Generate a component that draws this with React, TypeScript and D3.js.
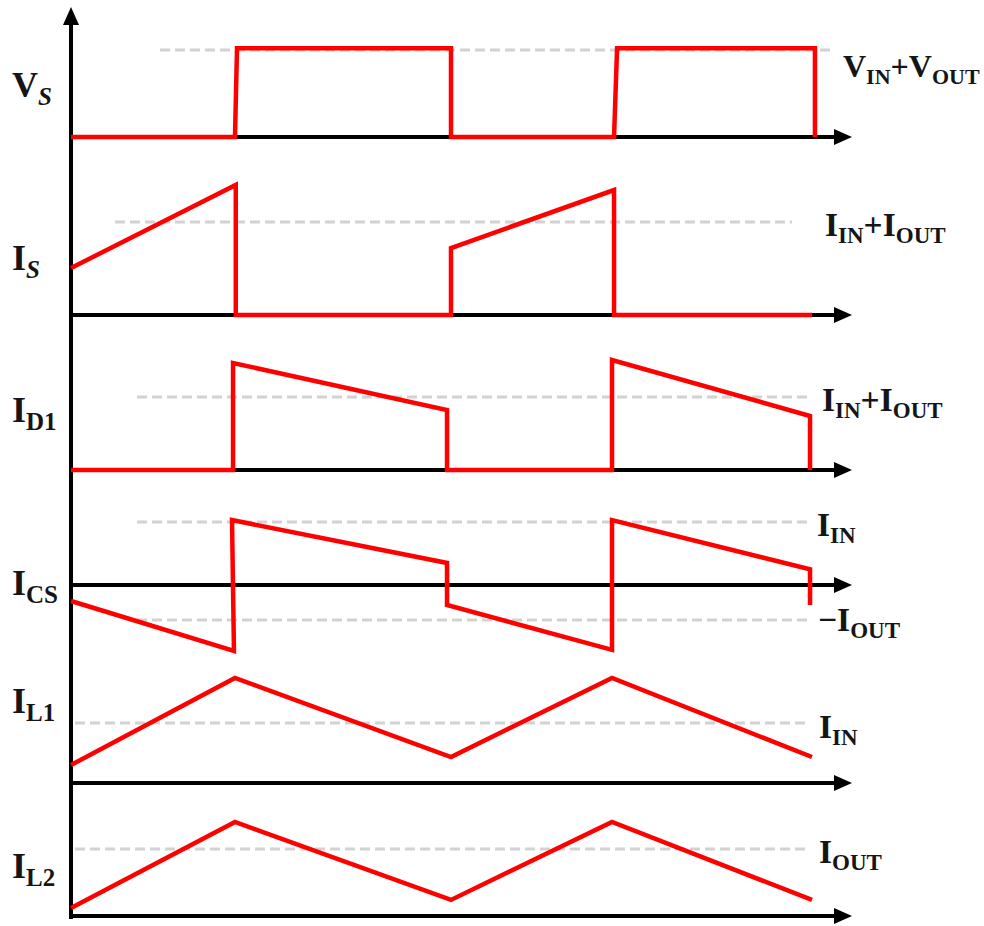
import React from 'react';
import * as d3 from 'd3';

// ---- DATA (time in % of the drawn time axis, values relative to each panel's dashed reference level) ----
const vsTimes = [0, 21.05, 21.31, 48.78, 48.78, 69.71, 70.1, 95.5, 95.5];
const vsValues = [0, 0, 1.02, 1.02, 0, 0, 1.02, 1.02, 0];

const isTimes = [0, 21.15, 21.15, 48.78, 48.78, 69.71, 69.71, 95.12];
const isValues = [0.505, 1.398, 0, 0, 0.72, 1.344, 0, 0];

const id1Times = [0, 20.8, 20.8, 48.27, 48.27, 69.45, 69.45, 94.87, 94.87];
const id1Values = [0, 0, 1.466, 0.822, 0, 0, 1.507, 0.74, 0];

const icsTimes = [0, 20.92, 20.67, 48.27, 48.27, 69.45, 69.45, 94.87, 94.87];
const icsValues = [-0.254, -1.048, 1.03, 0.35, -0.317, -1.03, 1.03, 0.25, -0.317];

const il1Times = [0, 21.05, 48.78, 69.45, 95.12];
const il1Values = [0.3, 1.75, 0.433, 1.75, 0.433];

const il2Times = [0, 21.05, 48.78, 69.45, 95.12];
const il2Values = [0.12, 1.403, 0.24, 1.403, 0.24];

// label texts: [text, isSubscript, italic]
type Part = [string, boolean, boolean?];
const leftLabels: Part[][] = [
  [['V', false], ['S', true, true]],
  [['I', false], ['S', true, true]],
  [['I', false], ['D1', true]],
  [['I', false], ['CS', true]],
  [['I', false], ['L1', true]],
  [['I', false], ['L2', true]],
];
const refLabelVs: Part[] = [['V', false], ['IN', true], ['+', false], ['V', false], ['OUT', true]];
const refLabelSum: Part[] = [['I', false], ['IN', true], ['+', false], ['I', false], ['OUT', true]];
const refLabelIn: Part[] = [['I', false], ['IN', true]];
const refLabelMinusOut: Part[] = [['\u2212', false], ['I', false], ['OUT', true]];
const refLabelOut: Part[] = [['I', false], ['OUT', true]];

// ---- LAYOUT ----
const W = 984;
const H = 926;
const X0 = 71;
const XEND = 850;
const RED = '#ff0000';
const GRAY = '#d2d2d2';
const INK = '#151515';
const FONT = '"Liberation Serif", "Times New Roman", serif';

const x = d3.scaleLinear().domain([0, 100]).range([X0, XEND]);

type Panel = {
  baseline: number;
  ref: number;
  times: number[];
  values: number[];
  dashes: { level: number; x1: number; x2: number }[];
  leftY: number;
  refs: { parts: Part[]; x: number; y: number; size: number }[];
};

const panels: Panel[] = [
  {
    baseline: 137, ref: 50, times: vsTimes, values: vsValues,
    dashes: [{ level: 1, x1: 160, x2: 835 }], leftY: 97,
    refs: [{ parts: refLabelVs, x: 843, y: 77, size: 32 }],
  },
  {
    baseline: 315, ref: 222, times: isTimes, values: isValues,
    dashes: [{ level: 1, x1: 115, x2: 792 }], leftY: 270,
    refs: [{ parts: refLabelSum, x: 825, y: 236, size: 33.5 }],
  },
  {
    baseline: 470, ref: 397, times: id1Times, values: id1Values,
    dashes: [{ level: 1, x1: 137, x2: 812 }], leftY: 422,
    refs: [{ parts: refLabelSum, x: 822, y: 411, size: 33.5 }],
  },
  {
    baseline: 585, ref: 522, times: icsTimes, values: icsValues,
    dashes: [{ level: 1, x1: 137, x2: 812 }, { level: -0.556, x1: 137, x2: 812 }], leftY: 595,
    refs: [
      { parts: refLabelIn, x: 817, y: 536, size: 33.5 },
      { parts: refLabelMinusOut, x: 818, y: 631, size: 33.5 },
    ],
  },
  {
    baseline: 783, ref: 723, times: il1Times, values: il1Values,
    dashes: [{ level: 1, x1: 75, x2: 810 }], leftY: 713,
    refs: [{ parts: refLabelIn, x: 819, y: 738, size: 33.5 }],
  },
  {
    baseline: 916, ref: 849, times: il2Times, values: il2Values,
    dashes: [{ level: 1, x1: 75, x2: 810 }], leftY: 878,
    refs: [{ parts: refLabelOut, x: 819, y: 863, size: 33.5 }],
  },
];

function Label({ parts, x0, y0, size }: { parts: Part[]; x0: number; y0: number; size: number }) {
  const sub = Math.round(size * 0.7);
  let shifted = false;
  return (
    <text x={x0} y={y0} fontFamily={FONT} fontWeight="bold" fontSize={size} fill={INK}>
      {parts.map(([t, isSub, ital], i) => {
        let dy = 0;
        if (isSub && !shifted) { dy = size * 0.22; shifted = true; }
        else if (!isSub && shifted) { dy = -size * 0.22; shifted = false; }
        return (
          <tspan key={i} dy={dy} fontSize={isSub ? sub : size} fontStyle={ital ? 'italic' : 'normal'}>
            {t}
          </tspan>
        );
      })}
    </text>
  );
}

export default function App() {
  return (
    <svg width={W} height={H} style={{ position: 'absolute', left: 0, top: 0, display: 'block', background: '#fff' }}>
      {/* dashed reference levels */}
      {panels.map((p, i) => {
        const y = d3.scaleLinear().domain([0, 1]).range([p.baseline, p.ref]);
        return p.dashes.map((d, j) => (
          <line key={`d${i}-${j}`} x1={d.x1} x2={d.x2} y1={y(d.level)} y2={y(d.level)}
            stroke={GRAY} strokeWidth={3} strokeDasharray="10 5" />
        ));
      })}

      {/* horizontal axes */}
      {panels.map((p, i) => (
        <g key={`ax${i}`}>
          <line x1={X0 - 2} x2={XEND - 14} y1={p.baseline} y2={p.baseline} stroke="#000" strokeWidth={4} />
          <path d={`M${XEND + 2},${p.baseline} L${XEND - 16},${p.baseline - 8} L${XEND - 16},${p.baseline + 8} Z`} fill="#000" />
        </g>
      ))}

      {/* vertical axis */}
      <line x1={X0} x2={X0} y1={20} y2={919} stroke="#000" strokeWidth={4} />
      <path d={`M${X0},7 L${X0 - 8},25 L${X0 + 8},25 Z`} fill="#000" />

      {/* waveforms */}
      {panels.map((p, i) => {
        const y = d3.scaleLinear().domain([0, 1]).range([p.baseline, p.ref]);
        const pts = p.times.map((t, k) => [t, p.values[k]] as [number, number]);
        const line = d3.line<[number, number]>().x((d) => x(d[0])).y((d) => y(d[1]));
        return (
          <path key={`w${i}`} d={line(pts) || ''} fill="none" stroke={RED} strokeWidth={4.5}
            strokeLinejoin="miter" strokeMiterlimit={10} />
        );
      })}

      {/* left labels */}
      {panels.map((p, i) => (
        <Label key={`l${i}`} parts={leftLabels[i]} x0={12} y0={p.leftY} size={36} />
      ))}

      {/* reference labels */}
      {panels.map((p, i) =>
        p.refs.map((r, j) => <Label key={`r${i}-${j}`} parts={r.parts} x0={r.x} y0={r.y} size={r.size} />)
      )}
    </svg>
  );
}
